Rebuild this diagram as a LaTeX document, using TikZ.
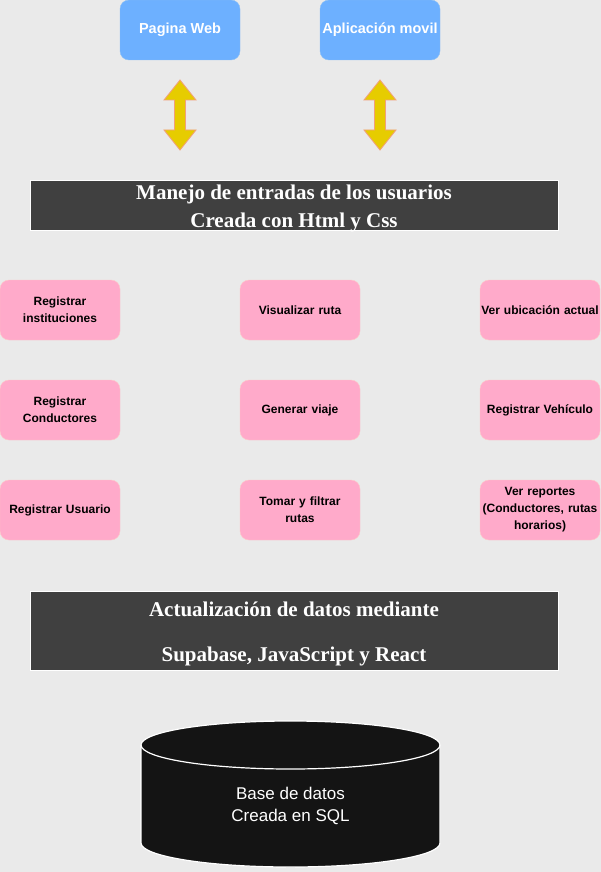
\documentclass[tikz,border=0pt]{standalone}
\usepackage{fontspec}
\setmainfont{Liberation Serif}
\newfontfamily\arialf{Liberation Sans}
\usetikzlibrary{shapes.geometric}
\definecolor{bgc}{HTML}{EAEAEA}
\definecolor{bluef}{HTML}{6DB0FF}
\definecolor{bluel}{HTML}{8CBFF5}
\definecolor{pinkf}{HTML}{FFAACA}
\definecolor{pinkl}{HTML}{FFC8C8}
\definecolor{goldf}{HTML}{E6CC00}
\definecolor{golds}{HTML}{F2A07A}
\definecolor{darkbar}{HTML}{404040}
\definecolor{dbc}{HTML}{141414}
\tikzset{
  topbox/.style={draw=bluel, fill=bluef, rounded corners=9pt, minimum width=120pt, minimum height=60pt, inner sep=0pt, text=white, font=\arialf\bfseries\fontsize{14.5}{18}\selectfont, align=center},
  pinkbox/.style={draw=pinkl, fill=pinkf, rounded corners=9pt, minimum width=120pt, minimum height=60pt, inner sep=0pt, text width=120pt, align=center, text=black, font=\arialf\bfseries\fontsize{12}{17}\selectfont},
  barbox/.style={draw=white, line width=1pt, fill=darkbar, minimum width=528pt, inner sep=0pt},
  bartext/.style={anchor=base, inner sep=0pt, text=white, font=\bfseries\fontsize{21}{25}\selectfont},
  dblarrow/.style={fill=goldf, draw=golds, line width=0.8pt, line join=miter},
}
\begin{document}
\begin{tikzpicture}[x=1pt,y=-1pt]
\fill[bgc] (0,0) rectangle (601,872);
\useasboundingbox (0,0) rectangle (601,872);

\node[topbox] (web) at (180,30) {Pagina Web};
\node[topbox] (app) at (380,30) {Aplicación movil};

\foreach \cx in {180,380}{
  \draw[dblarrow] (\cx,80) -- (\cx+16,100) -- (\cx+5.5,100) -- (\cx+5.5,130) -- (\cx+16,130) -- (\cx,150) -- (\cx-16,130) -- (\cx-5.5,130) -- (\cx-5.5,100) -- (\cx-16,100) -- cycle;
}

\node[barbox, minimum height=49.5pt] (bar1) at (294,205.5) {};
\node[bartext] (bar1a) at (294,199) {Manejo de entradas de los usuarios};
\node[bartext] (bar1b) at (294,227) {Creada con Html y Css};

\node[pinkbox] (p11) at (60,310) {Registrar\\instituciones};
\node[pinkbox] (p12) at (300,310) {Visualizar ruta};
\node[pinkbox] (p13) at (540,310) {Ver ubicación actual};
\node[pinkbox] (p21) at (60,410) {Registrar\\Conductores};
\node[pinkbox] (p22) at (300,410) {Generar viaje};
\node[pinkbox] (p23) at (540,410) {Registrar Vehículo};
\node[pinkbox] (p31) at (60,510) {Registrar Usuario};
\node[pinkbox] (p32) at (300,510) {Tomar y filtrar\\rutas};
\node[pinkbox] (p33) at (540,510) {Ver reportes\\(Conductores, rutas\\horarios)};

\node[barbox, minimum height=79pt] (bar2) at (294,630.5) {};
\node[bartext] (bar2a) at (294,616) {Actualización de datos mediante};
\node[bartext] (bar2b) at (294,661) {Supabase, JavaScript y React};

\draw[fill=dbc, draw=white, line width=1.2pt]
  (141,745) -- (141,843) arc[start angle=180, end angle=360, x radius=149.5, y radius=-24]
  -- (440,745) arc[start angle=0, end angle=180, x radius=149.5, y radius=-24] -- cycle;
\draw[draw=white, line width=1.2pt] (141,745) arc[start angle=180, end angle=360, x radius=149.5, y radius=-24];
\node[text=white, align=center, font=\arialf\fontsize{17}{22}\selectfont] (db) at (290.5,806) {Base de datos\\Creada en SQL};
\end{tikzpicture}
\end{document}
